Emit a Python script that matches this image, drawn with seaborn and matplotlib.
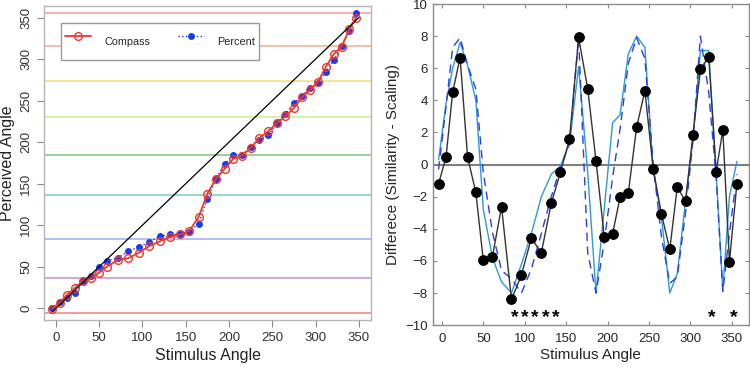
import matplotlib
matplotlib.use('Agg')
import matplotlib.pyplot as plt
import seaborn as sns

sns.set_style('ticks')
plt.rcParams['font.family'] = ['Liberation Sans', 'DejaVu Sans']

# ---- left panel data ----
stim_left = [-4, 5, 13, 22, 31, 41, 50, 59, 72, 84, 96, 108, 120, 132, 144, 154, 165, 175,
             185, 195, 205, 215, 225, 235, 245, 255, 265, 275, 284, 294, 303, 312, 321, 330, 339, 347]
compass = [-1, 7, 16.4, 24.5, 33, 36, 43, 50, 58.5, 60.5, 67, 75, 80.6, 86, 89, 93, 110, 138,
           156, 168, 180, 183.6, 193, 205, 213, 222.5, 231, 241, 254, 263, 273, 291, 306, 315, 335.6, 350]
percent = [0, 8, 12.8, 18, 33, 38.5, 50, 57, 61, 69, 74, 80, 86.6, 89, 89.4, 92, 102, 132,
           156, 173.6, 184.4, 184.4, 194.5, 202.5, 208.5, 222.5, 234, 246.6, 256, 265, 271.5, 284.7, 298.7, 315.6, 334, 356]
diag = [-4, 350]
ref_angles = [-5, 36, 84, 137, 185, 230, 274, 316, 355]
ref_colors = ['#f4837d', '#c792d6', '#9fb0f5', '#7dcdc4', '#7cc47c',
              '#cdee8f', '#f6d88a', '#f6ad90', '#f5a09a']

# ---- right panel data ----
stim_right = [-4, 5, 13, 22, 31, 41, 50, 61, 72, 84, 96, 108, 120, 132, 143, 154, 165, 176, 186,
              196, 206, 215, 225, 235, 245, 255, 265, 275, 284, 294, 303, 312, 322, 331, 339, 347, 356]
diff_obs = [-1.2, 0.46, 4.5, 6.67, 0.48, -1.73, -5.97, -5.74, -2.62, -8.4, -6.88, -4.57, -5.5, -2.41,
            -0.48, 1.58, 7.92, 4.72, 0.23, -4.53, -4.32, -2.04, -1.75, 2.33, 4.6, -0.29, -3.08, -5.28,
            -1.41, -2.27, 1.87, 5.93, 6.72, -0.44, 2.16, -6.05, -1.19]
model_solid = [0.3, 3.8, 6.0, 7.6, 6.2, 4.0, -2.8, -5.8, -7.3, -8.0, -6.2, -4.3, -2.0, -0.6, -0.1,
               1.3, 6.1, -0.5, -8.0, -2.7, 2.6, 3.1, 6.9, 8.0, 7.3, -0.3, -3.3, -8.0, -6.8, -2.3,
               1.6, 7.1, 7.1, -0.6, -7.8, -2.0, 0.2]
model_dashed = [-0.3, 3.6, 7.3, 7.9, 6.2, 4.7, -0.5, -4.2, -6.6, -7.1, -8.0, -6.5, -4.3, -2.0, -0.2,
                1.3, 7.9, -5.5, -8.0, -4.8, -0.8, 2.2, 6.3, 7.9, 6.6, 0.0, -4.5, -7.4, -7.0, -3.0,
                1.5, 8.0, 4.5, -0.8, -7.9, -4.3, -0.6]
star_x = [88, 100, 112, 125, 137, 326, 352]
star_y = -9.5

fig = plt.figure(figsize=(7.5, 3.67), dpi=100)

# ================= left panel (R style) =================
ax1 = fig.add_axes([0.0587, 0.128, 0.436, 0.856])
for a, c in zip(ref_angles, ref_colors):
    ax1.axhline(a, color=c, lw=1.4, alpha=0.8, zorder=1)

sns.lineplot(x=stim_left, y=percent, ax=ax1, color='#1a3cf0', lw=1, linestyle=':',
             marker='o', markersize=5, markeredgewidth=0, markerfacecolor='#1a3cf0',
             estimator=None, sort=False, label='Percent', zorder=3)
sns.lineplot(x=stim_left, y=compass, ax=ax1, color='#f2362a', lw=1.3,
             marker='o', markersize=5.5, markerfacecolor='none', markeredgecolor='#f2362a',
             markeredgewidth=1, estimator=None, sort=False, label='Compass', zorder=4)
sns.lineplot(x=diag, y=diag, ax=ax1, color='black', lw=0.9, estimator=None, sort=False,
             legend=False, zorder=5)

ax1.set_xlim(-13.5, 364)
ax1.set_ylim(-14, 364)
ax1.set_xticks(range(0, 351, 50))
ax1.set_yticks(range(0, 351, 50))
for s in ax1.spines.values():
    s.set_color('#b5b5b5')
    s.set_linewidth(1)
ax1.tick_params(colors='#888888', labelcolor='#333333', labelsize=9.5, length=5, width=0.8)
for lab in ax1.get_yticklabels():
    lab.set_rotation(90)
    lab.set_va('center')
ax1.set_xlabel('Stimulus Angle', fontsize=11.5, color='#222222', labelpad=3)
ax1.set_ylabel('Perceived Angle', fontsize=11.5, color='#222222', va='center')
ax1.yaxis.set_label_coords(-0.112, 0.5)

h, l = ax1.get_legend_handles_labels()
leg = ax1.legend(h[::-1], l[::-1], loc='upper left', bbox_to_anchor=(0.035, 0.962), ncol=2,
                 fontsize=7.8, handlelength=2.4, handletextpad=1.2, columnspacing=2.6,
                 handleheight=3.6, borderpad=0.4, frameon=True, fancybox=False,
                 edgecolor='#999999', framealpha=1)
leg.get_frame().set_linewidth(1)

# ================= right panel (MATLAB style) =================
ax2 = fig.add_axes([0.577, 0.114, 0.421, 0.875])
ax2.axhline(0, color='#7f7f7f', lw=1.5, zorder=1)
sns.lineplot(x=stim_right, y=model_solid, ax=ax2, color='#2b9bd8', lw=1,
             estimator=None, sort=False, legend=False, zorder=2)
sns.lineplot(x=stim_right, y=model_dashed, ax=ax2, color='#2a3cf0', lw=1, linestyle=(0, (6, 4)),
             estimator=None, sort=False, legend=False, zorder=2)
sns.lineplot(x=stim_right, y=diff_obs, ax=ax2, color='#333333', lw=1,
             marker='o', markersize=7, markerfacecolor='black', markeredgecolor='black',
             estimator=None, sort=False, legend=False, zorder=3)
for sx in star_x:
    ax2.text(sx, star_y, '*', ha='center', va='center', fontsize=14, fontweight='bold',
             color='black')

ax2.set_xlim(-11, 370)
ax2.set_ylim(-10, 10)
ax2.set_xticks(range(0, 351, 50))
ax2.set_yticks(range(-10, 11, 2))
for s in ax2.spines.values():
    s.set_color('#8c8c8c')
    s.set_linewidth(1)
ax2.tick_params(direction='in', top=True, right=True, colors='#8c8c8c', labelcolor='#262626',
                labelsize=9.5, length=3, width=0.8)
ax2.tick_params(axis='x', pad=6)
ax2.set_xlabel('Stimulus Angle', fontsize=11, color='#262626', labelpad=2)
ax2.set_ylabel('Differece (Similarity - Scaling)', fontsize=11, color='#262626', labelpad=4)

fig.savefig('out.png', dpi=100)
